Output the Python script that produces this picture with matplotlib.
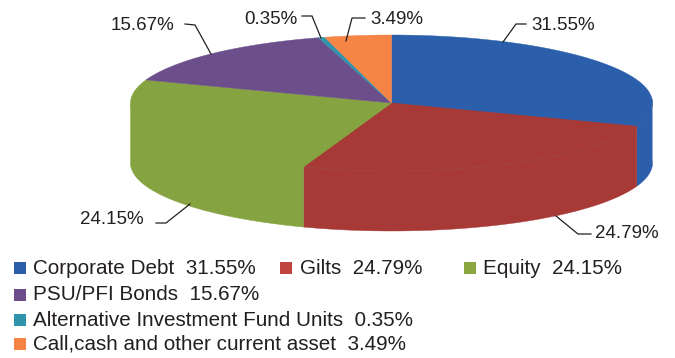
import numpy as np
import matplotlib
matplotlib.use('Agg')
import matplotlib.pyplot as plt
from matplotlib.patches import Polygon, Rectangle

plt.rcParams['font.family'] = ['Liberation Sans', 'DejaVu Sans']

# ---------- Data ----------
categories = ['Corporate Debt', 'Gilts', 'Equity', 'PSU/PFI Bonds',
              'Alternative Investment Fund Units', 'Call,cash and other current asset']
values = [31.55, 24.79, 24.15, 15.67, 0.35, 3.49]

# ---------- Style / layout ----------
face_colors = ['#2B5EAB', '#A73A36', '#86A341', '#6C4F8A', '#2F93AC', '#F68445']
swatch_colors = ['#2B5EAB', '#C0433F', '#8AA63F', '#6C4F8A', '#2F93AC', '#F68445']
text_color = '#231F20'
label_size = 13.5
legend_size = 14.85

cx, cy = 391.5, 103     # pie centre in pixels
rx, ry = 261, 68        # top face ellipse
depth = 60              # wall height

# slight bend of the angles, the source chart is drawn in perspective
warp_at = [0, 114, 203, 290, 346, 360]
warp_by = [0, -3.6, -3.1, 0, -2.5, 0]

label_pos = [(531, 25), (595, 234), (80, 220), (111, 25), (244, 20), (370, 20)]
leaders = [
    [(526, 24), (516, 24), (503, 42)],
    [(591, 234), (578, 234), (556, 216)],
    [(156, 223), (166, 223), (190, 204)],
    [(185, 24), (195, 25), (211, 54)],
    [(302, 16), (312, 16), (321, 38)],
    [(365, 18), (352, 18), (346, 41)],
]
legend_rows = [(268, 14, 33), (268, 280, 300), (268, 464, 483), (295, 14, 33), (320, 14, 33), (344, 14, 33)]


def bend(deg):
    return deg + np.interp(deg, warp_at, warp_by)


def arc(start, stop, drop=0):
    # angles run clockwise from the top of the pie
    t = np.radians(np.linspace(bend(start), bend(stop), 120))
    return np.column_stack([cx + rx * np.sin(t), cy - ry * np.cos(t) + drop])


fig = plt.figure(figsize=(6.75, 3.58), dpi=100)
ax = fig.add_axes([0, 0, 1, 1])
ax.set_xlim(0, 675)
ax.set_ylim(358, 0)
ax.axis('off')

edges = np.concatenate([[0], np.cumsum(values) / np.sum(values) * 360])

# walls, only the front half of the ellipse can be seen
# polygon goes back to the hub so no light seam shows under the top face
for i, col in enumerate(face_colors):
    a, b = max(edges[i], 90), min(edges[i + 1], 270)
    if a >= b:
        continue
    low = arc(a, b, depth)
    pts = np.vstack([arc(a, a), low, arc(b, b), [[cx, cy]]])
    ax.add_patch(Polygon(pts, closed=True, fc=col, ec=col, lw=0.3, zorder=2))

# top faces
for i, col in enumerate(face_colors):
    pts = np.vstack([[cx, cy], arc(edges[i], edges[i + 1])])
    ax.add_patch(Polygon(pts, closed=True, fc=col, ec=col, lw=0.3, zorder=3))

# faint rim between the top face and the wall
rim = arc(90, edges[2])
ax.plot(rim[:, 0], rim[:, 1], color='#8A6A78', lw=0.4, alpha=0.35, zorder=4)

for i, val in enumerate(values):
    xs, ys = zip(*leaders[i])
    ax.plot(xs, ys, color=text_color, lw=0.9, zorder=5, solid_joinstyle='miter')
    ax.text(label_pos[i][0], label_pos[i][1], f'{val:.2f}%', fontsize=label_size,
            color=text_color, va='center', ha='left', zorder=6)

for i, (cat, val) in enumerate(zip(categories, values)):
    y, sx, tx = legend_rows[i]
    ax.add_patch(Rectangle((sx, y - 6), 12, 12, fc=swatch_colors[i], ec='none'))
    ax.text(tx, y, f'{cat}  {val:.2f}%', fontsize=legend_size, color=text_color, va='center', ha='left')

fig.savefig('out.png', dpi=100)
